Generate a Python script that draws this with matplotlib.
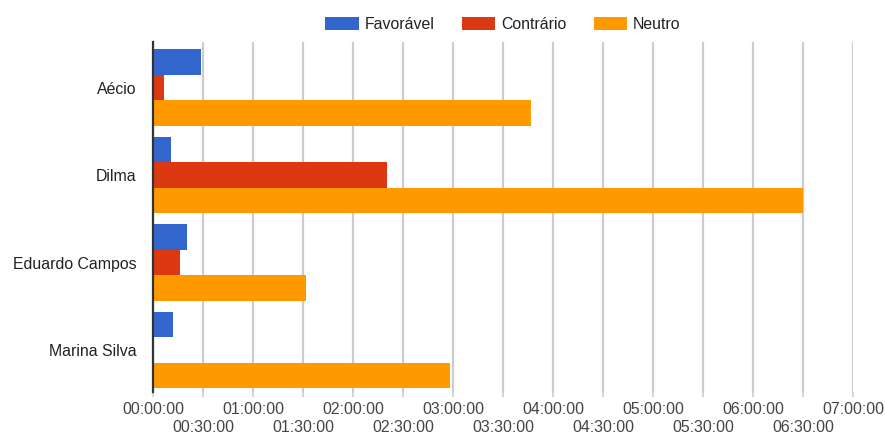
import matplotlib
matplotlib.use("Agg")
import matplotlib.pyplot as plt
import numpy as np
from matplotlib.ticker import FuncFormatter, MultipleLocator

plt.rcParams["font.family"] = ["Liberation Sans", "DejaVu Sans"]

# airtime per candidate, in seconds
candidates = ["Aécio", "Dilma", "Eduardo Campos", "Marina Silva"]
favoravel = [1714, 634, 1210, 731]
contrario = [407, 8410, 983, 0]
neutro = [13620, 23385, 5519, 10703]

series_names = ["Favorável", "Contrário", "Neutro"]
BLUE = "#3366cc"
RED = "#dc3912"
ORANGE = "#ff9900"
GRID = "#cccccc"
AXIS = "#333333"
TEXT = "#222222"
TICK_TEXT = "#444444"


def hms(value, _pos=None):
    value = int(round(value))
    return f"{value // 3600:02d}:{value % 3600 // 60:02d}:{value % 60:02d}"


fig = plt.figure(figsize=(8.85, 4.34), dpi=100)
ax = fig.add_axes([153 / 885, 42 / 434, 700 / 885, 350 / 434])

y = np.arange(len(candidates))
h = 0.293
for offset, values, color, name in zip(
    (-h, 0, h), (favoravel, contrario, neutro), (BLUE, RED, ORANGE), series_names
):
    ax.barh(y + offset, values, height=h, color=color, label=name, zorder=3)

ax.set_xlim(0, 7 * 3600)
ax.set_ylim(3.48, -0.52)

# hours on the first row, half hours below
ax.xaxis.set_major_locator(MultipleLocator(3600))
ax.xaxis.set_minor_locator(MultipleLocator(1800))
ax.xaxis.set_major_formatter(FuncFormatter(hms))
ax.xaxis.set_minor_formatter(FuncFormatter(lambda v, p: hms(v) if int(v) % 3600 else ""))
ax.tick_params(axis="x", which="major", length=3.5, width=1.2, color=GRID,
               labelsize=11.4, labelcolor=TICK_TEXT, pad=3.5)
ax.tick_params(axis="x", which="minor", length=3.5, width=1.2, color=GRID,
               labelsize=11.4, labelcolor=TICK_TEXT, pad=16.5)
ax.grid(axis="x", which="both", color=GRID, linewidth=1.6, zorder=0)

ax.set_yticks(y)
ax.set_yticklabels(candidates)
ax.tick_params(axis="y", length=0, pad=12, labelsize=11.4, labelcolor=TEXT)

for side in ("top", "right", "bottom"):
    ax.spines[side].set_visible(False)
ax.spines["left"].set_color(AXIS)
ax.spines["left"].set_linewidth(1.6)
ax.spines["left"].set_zorder(4)

fig.legend(
    loc="center",
    bbox_to_anchor=(503 / 885, 1 - 24.5 / 434),
    ncol=3,
    frameon=False,
    fontsize=11.4,
    handlelength=2.1,
    handleheight=0.9,
    handletextpad=0.4,
    columnspacing=1.7,
    labelcolor=TEXT,
)

fig.savefig("out.png", dpi=100, facecolor="white")
